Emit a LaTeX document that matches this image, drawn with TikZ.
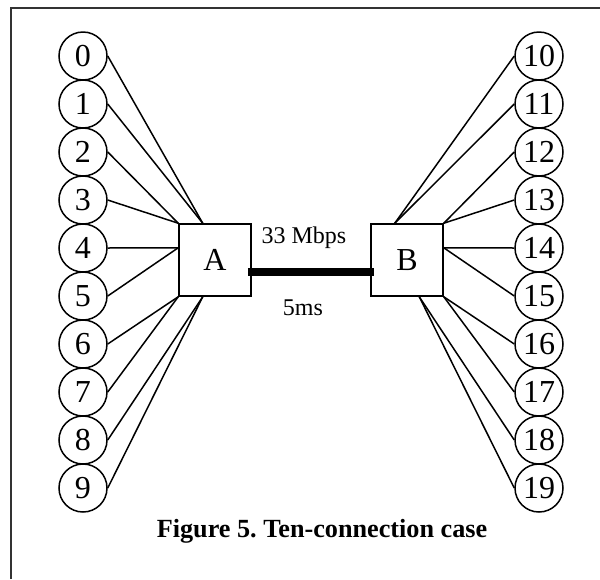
\documentclass[tikz,border=0pt]{standalone}
\usepackage{fontspec}
\setmainfont{Liberation Serif}
\usetikzlibrary{calc}

\tikzset{
  host/.style={draw,circle,minimum size=24pt,inner sep=0pt,line width=0.75pt,
               font=\fontsize{16}{18}\selectfont},
  router/.style={draw,minimum width=36pt,minimum height=36pt,inner sep=0pt,
                 line width=0.75pt,font=\fontsize{16}{18}\selectfont},
  link/.style={line width=0.75pt}
}

\begin{document}
\begin{tikzpicture}[x=0.5pt,y=-0.5pt]
  \useasboundingbox (0,0) rectangle (600,579);
  \draw[line width=1pt,black!80] (11,579) -- (11,8) -- (600,8);
  % routers
  \node[router] (A) at (215,260) {A};
  \node[router] (B) at (407,260) {B};
  \coordinate (At) at ($(A.north west)!1/3!(A.north east)$);
  \coordinate (Ab) at ($(A.south west)!1/3!(A.south east)$);
  \coordinate (Al) at ($(A.north west)!1/3!(A.south west)$);
  \coordinate (Bt) at ($(B.north west)!1/3!(B.north east)$);
  \coordinate (Bb) at ($(B.south west)!2/3!(B.south east)$);
  \coordinate (Br) at ($(B.north east)!1/3!(B.south east)$);
  \coordinate (Ax) at ($(A.north east)!2/3!(A.south east)$);
  \coordinate (Bx) at ($(B.north west)!2/3!(B.south west)$);
  % hosts
  \node[host] (n0)  at (83,56)  {0};
  \node[host] (n1)  at (83,104) {1};
  \node[host] (n2)  at (83,152) {2};
  \node[host] (n3)  at (83,200) {3};
  \node[host] (n4)  at (83,248) {4};
  \node[host] (n5)  at (83,296) {5};
  \node[host] (n6)  at (83,344) {6};
  \node[host] (n7)  at (83,392) {7};
  \node[host] (n8)  at (83,440) {8};
  \node[host] (n9)  at (83,488) {9};
  \node[host] (n10) at (539,56)  {10};
  \node[host] (n11) at (539,104) {11};
  \node[host] (n12) at (539,152) {12};
  \node[host] (n13) at (539,200) {13};
  \node[host] (n14) at (539,248) {14};
  \node[host] (n15) at (539,296) {15};
  \node[host] (n16) at (539,344) {16};
  \node[host] (n17) at (539,392) {17};
  \node[host] (n18) at (539,440) {18};
  \node[host] (n19) at (539,488) {19};
  % links
  \draw[link] (n0.east) -- (At);
  \draw[link] (n1.east) -- (At);
  \draw[link] (n2.east) -- (A.north west);
  \draw[link] (n3.east) -- (A.north west);
  \draw[link] (n4.east) -- (Al);
  \draw[link] (n5.east) -- (Al);
  \draw[link] (n6.east) -- (A.south west);
  \draw[link] (n7.east) -- (A.south west);
  \draw[link] (n8.east) -- (Ab);
  \draw[link] (n9.east) -- (Ab);
  \draw[link] (n10.west) -- (Bt);
  \draw[link] (n11.west) -- (Bt);
  \draw[link] (n12.west) -- (B.north east);
  \draw[link] (n13.west) -- (B.north east);
  \draw[link] (n14.west) -- (Br);
  \draw[link] (n15.west) -- (Br);
  \draw[link] (n16.west) -- (B.south east);
  \draw[link] (n17.west) -- (B.south east);
  \draw[link] (n18.west) -- (Bb);
  \draw[link] (n19.west) -- (Bb);
  % bottleneck
  \draw[line width=4pt,shorten <=-2pt,shorten >=-2pt] (Ax) -- (Bx);
  \node[anchor=base,font=\fontsize{12}{14}\selectfont] (bw) at (304,243) {33 Mbps};
  \node[anchor=base,font=\fontsize{12}{14}\selectfont] (dl) at (303,315) {5ms};
  \node[anchor=base,font=\bfseries\fontsize{13.1}{15}\selectfont] (cap) at (322,537)
    {\frenchspacing Figure 5. Ten-connection case};
\end{tikzpicture}
\end{document}
